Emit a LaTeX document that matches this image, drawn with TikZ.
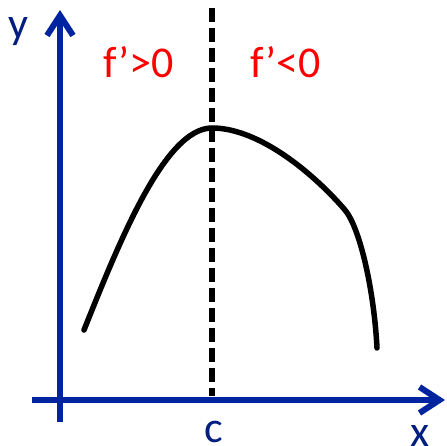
\documentclass[tikz,border=0pt]{standalone}
\usepackage{fontspec}
\setmainfont{Carlito}
\usetikzlibrary{arrows.meta}
\definecolor{axisblue}{RGB}{0,36,160}
\definecolor{labred}{RGB}{255,0,0}
\tikzset{
  axisline/.style={draw=axisblue, line width=6pt, -{Straight Barb[length=20pt,width=26pt,line width=6pt]}},
  lab/.style={font=\fontsize{44}{44}\selectfont, inner sep=0pt, anchor=base west},
  curveline/.style={draw=black, line width=5.5pt, line cap=round},
  divider/.style={draw=black, line width=5.5pt, dash pattern=on 14pt off 6pt}
}
\begin{document}
\begin{tikzpicture}[x=1pt,y=-1pt]
\useasboundingbox (0,0) rectangle (447,446);
% axes
\coordinate (ybot) at (60,422);
\coordinate (ytop) at (60,10);
\coordinate (xleft) at (32,400);
\coordinate (xright) at (445,400);
\draw[axisline] (ybot) -- (ytop);
\draw[axisline] (xleft) -- (xright);
% divider
\coordinate (dtop) at (212,8);
\coordinate (dbot) at (212,396);
\draw[divider] (dtop) -- (dbot);
% curve
\coordinate (cstart) at (84,330);
\coordinate (cpeak) at (212,128);
\coordinate (cbend) at (345,210);
\coordinate (cend) at (377,348);
\draw[curveline] (cstart) .. controls (120,240) and (165,128) .. (cpeak)
  .. controls (260,128) and (315,175) .. (cbend)
  .. controls (360,228) and (374,290) .. (cend);
% labels
\node[lab, text=axisblue!80!black] (ylab) at (8,39) {y};
\node[lab, text=labred] (fpos) at (103,78) {f’>0};
\node[lab, text=labred] (fneg) at (250,78) {f’<0};
\node[lab, text=axisblue!80!black] (clab) at (204,442) {c};
\node[lab, text=axisblue!80!black] (xlab) at (410,446) {x};
\end{tikzpicture}
\end{document}
